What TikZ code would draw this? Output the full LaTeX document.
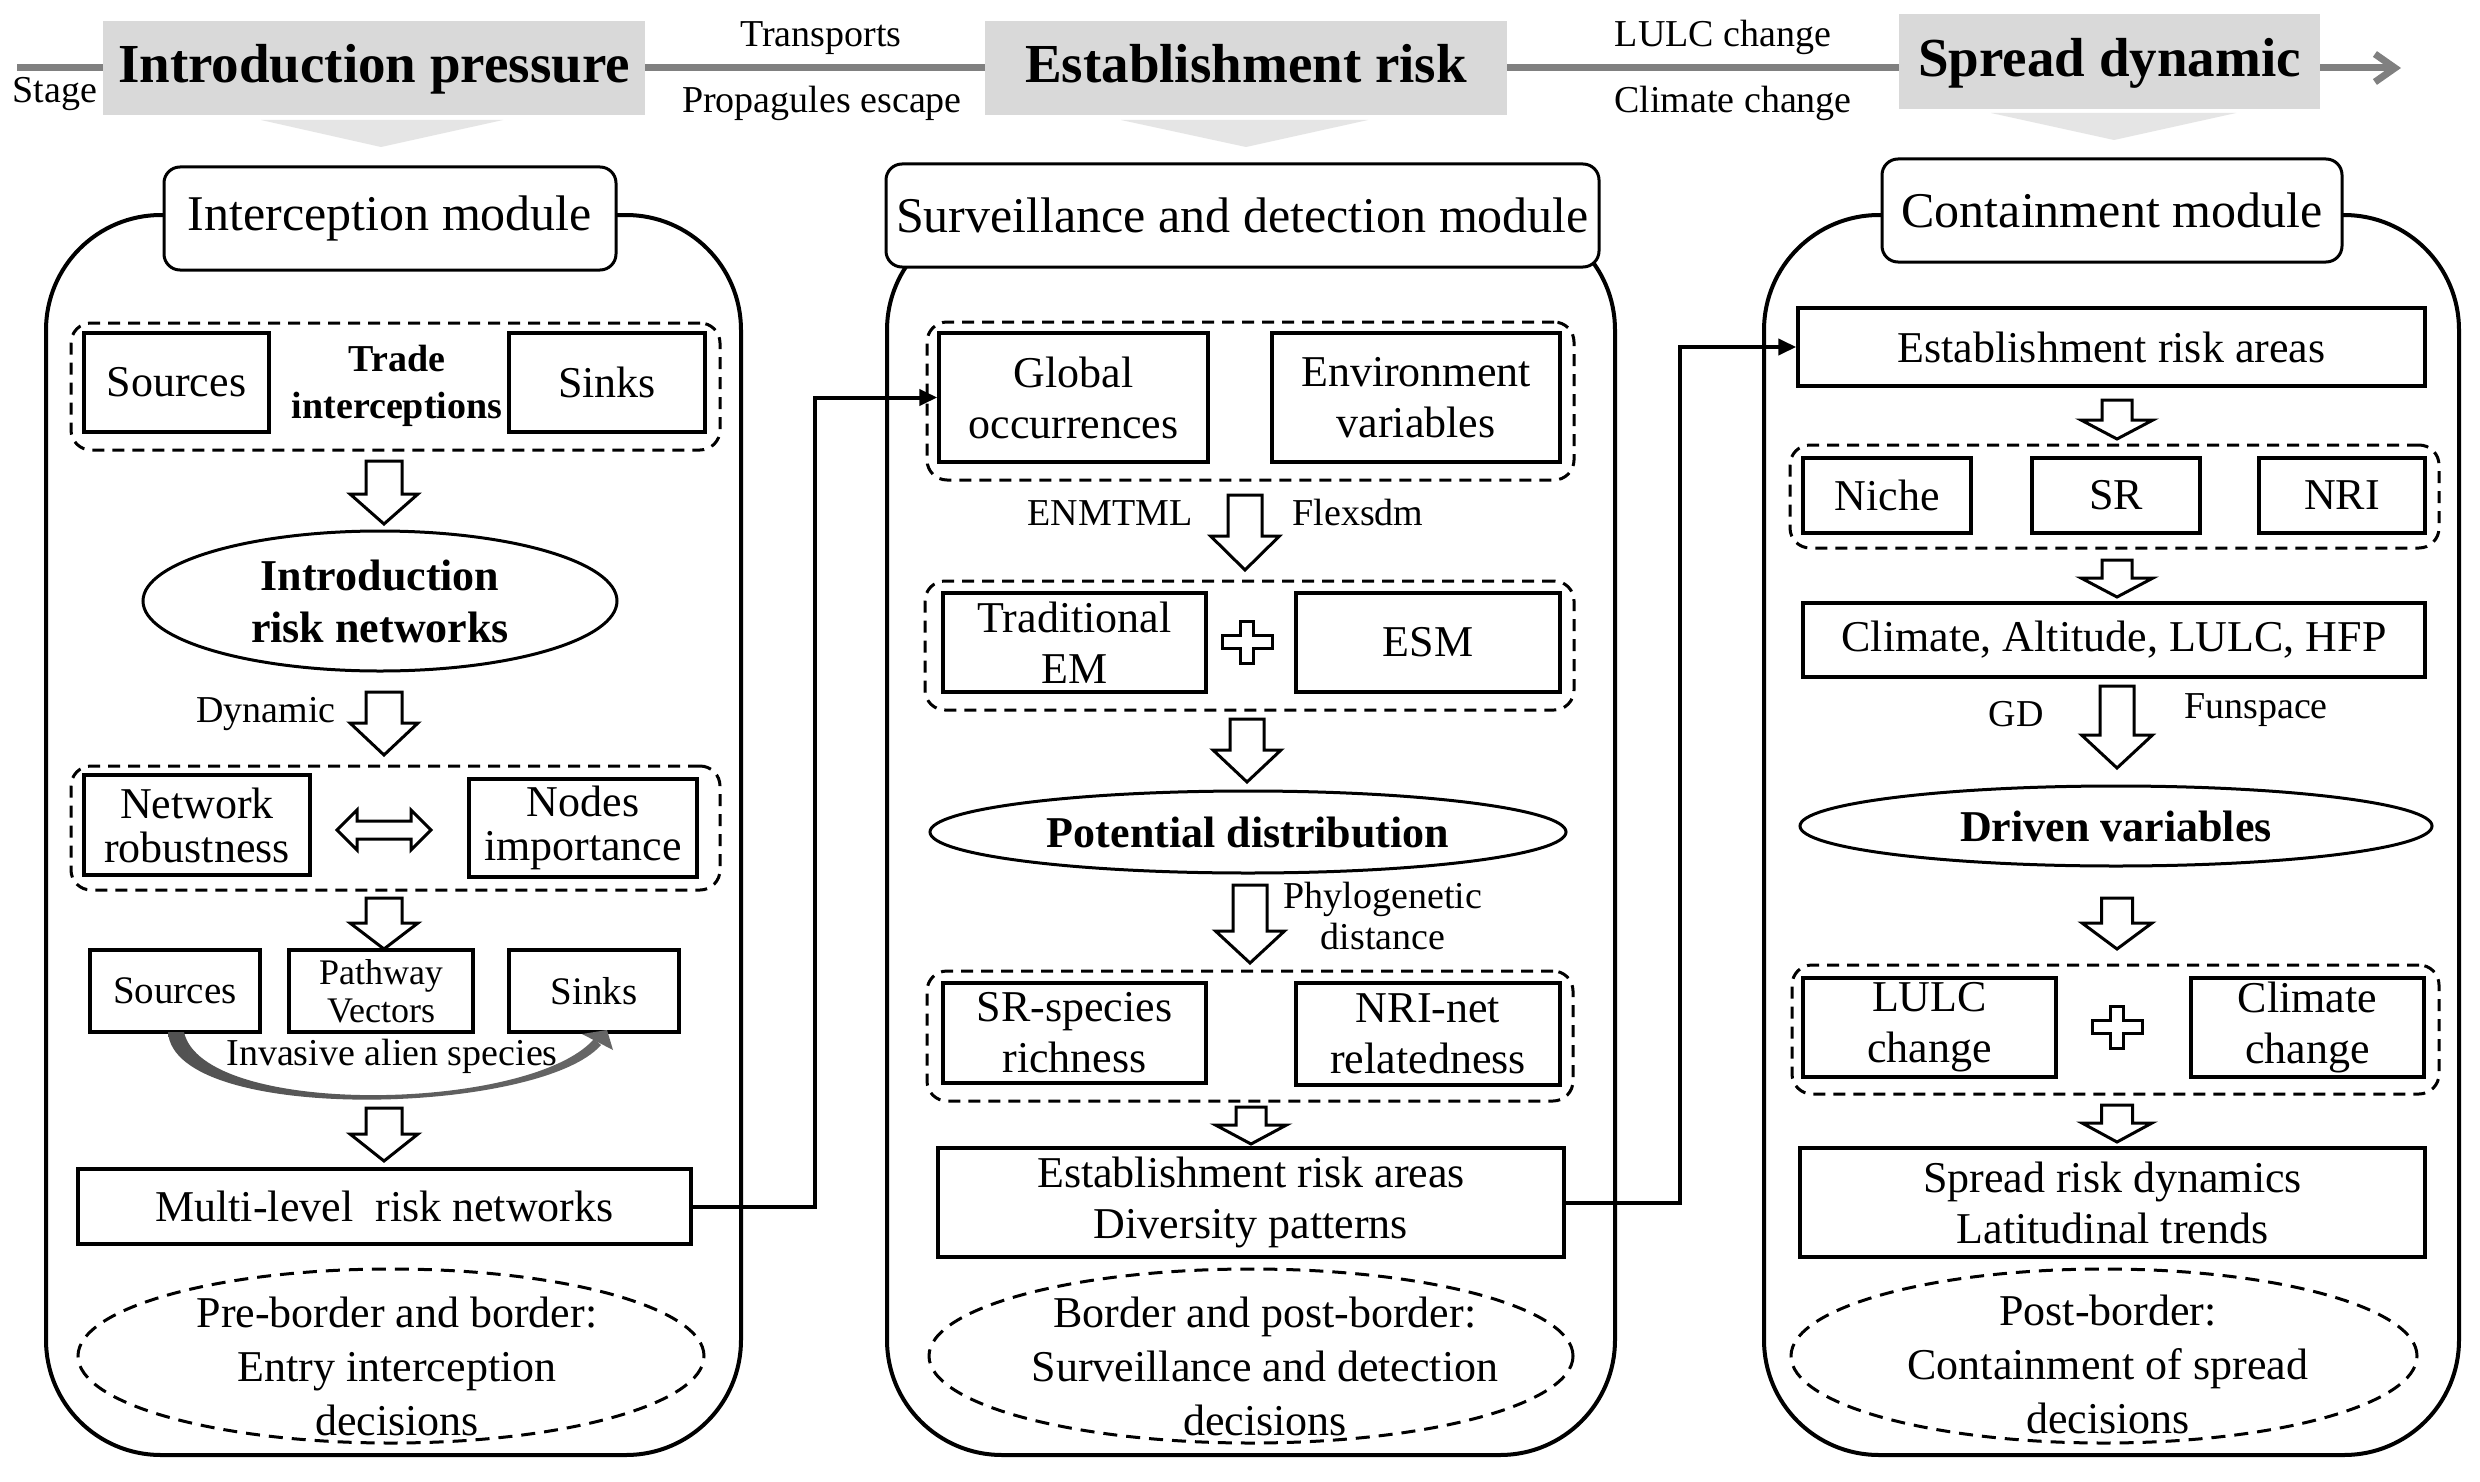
\documentclass[tikz,border=0pt]{standalone}
\usepackage{fontspec}
\setmainfont{Liberation Serif}
\usetikzlibrary{shapes.geometric,arrows.meta}
\tikzset{
  stagebox/.style={fill=black!15, inner sep=0pt, text height=40pt, text depth=10pt, font=\fontsize{55}{60}\selectfont\bfseries},
  stagetri/.style={fill=black!10},
  stageline/.style={draw=black!50, line width=7pt, -{Straight Barb[length=20pt,width=28pt]}},
  toplab/.style={inner sep=0pt, font=\fontsize{38}{44}\selectfont},
  module/.style={draw, line width=4pt, rounded corners=115pt, inner sep=0pt},
  mtitle/.style={draw, fill=white, line width=3pt, rounded corners=16pt, inner sep=0pt, font=\fontsize{50}{56}\selectfont},
  grp/.style={draw, line width=3pt, dash pattern=on 12pt off 8pt, rounded corners=20pt, inner sep=0pt},
  sbox/.style={draw, line width=3.5pt, inner sep=0pt, align=center, font=\fontsize{44}{51}\selectfont},
  lab/.style={inner sep=0pt, align=center, font=\fontsize{38}{41}\selectfont},
  bell/.style={ellipse, draw, line width=3pt, inner sep=0pt, align=center, font=\fontsize{44}{52}\selectfont\bfseries},
  dell/.style={ellipse, draw, line width=3pt, dash pattern=on 14pt off 9pt, inner sep=0pt},
  delltext/.style={inner sep=0pt, align=center, font=\fontsize{44}{54}\selectfont},
  hollow/.style={draw, fill=white, line width=3pt},
  conn/.style={line width=4pt, -{Triangle[length=18pt,width=16pt]}},
}
% box node from its corners: style, name, x1, y1, x2, y2 (text follows)
\newcommand\bnode[6]{\node[#1, minimum width={#5-#3}, minimum height={#6-#4}] (#2) at ({(#3+#5)/2},{(#4+#6)/2})}
\newcommand\hollowdown[6]{\draw[hollow] ({#1-#5/2},#2) -- ({#1+#5/2},#2) -- ({#1+#5/2},#3) -- ({#1+#6/2},#3) -- (#1,#4) -- ({#1-#6/2},#3) -- ({#1-#5/2},#3) -- cycle;}
\newcommand\hollowplus[2]{\draw[hollow] ({#1-6.5},{#2-21}) -- ({#1+6.5},{#2-21}) -- ({#1+6.5},{#2-6.5}) -- ({#1+25},{#2-6.5}) -- ({#1+25},{#2+6.5}) -- ({#1+6.5},{#2+6.5}) -- ({#1+6.5},{#2+21}) -- ({#1-6.5},{#2+21}) -- ({#1-6.5},{#2+6.5}) -- ({#1-25},{#2+6.5}) -- ({#1-25},{#2-6.5}) -- ({#1-6.5},{#2-6.5}) -- cycle;}
\begin{document}
\begin{tikzpicture}[x=1pt,y=-1pt]
\useasboundingbox (0,0) rectangle (2480,1482);
\fill[white] (0,0) rectangle (2480,1482);
% ---------- stage bar ----------
\coordinate (s0) at (17,68);
\coordinate (s1) at (2401,68);
\draw[stageline] (s0) -- (s1);
\bnode{stagebox}{ip}{103}{21}{645}{115} {Introduction pressure};
\bnode{stagebox}{er}{985}{21}{1507}{115} {Establishment risk};
\bnode{stagebox}{sd}{1899}{14}{2320}{109} {Spread dynamic};
\fill[stagetri] (261,120) -- (503,120) -- (381,147) -- cycle;
\fill[stagetri] (1121,120) -- (1368,120) -- (1246,147) -- cycle;
\fill[stagetri] (1991,113) -- (2236,113) -- (2114,140) -- cycle;
\node[toplab, anchor=base] (stg) at (55,103) {Stage};
\node[toplab, anchor=base] (trn) at (821,47) {Transports};
\node[toplab, anchor=base] (pes) at (822,113) {Propagules escape};
\node[toplab, anchor=base] (lcc) at (1723,47) {LULC change};
\node[toplab, anchor=base] (clm) at (1733,113) {Climate change};
% ---------- modules ----------
\bnode{module}{m1}{46}{215}{741}{1455} {};
\bnode{module}{m2}{887}{215}{1615}{1455} {};
\bnode{module}{m3}{1764}{215}{2459}{1455} {};
\bnode{mtitle}{t1}{164}{167}{616}{270} {Interception module};
\bnode{mtitle}{t2}{886}{164}{1599}{267} {Surveillance and detection module};
\bnode{mtitle}{t3}{1882}{159}{2342}{262} {Containment module};
% ---------- left module ----------
\bnode{grp}{g1}{71}{323}{720}{450} {};
\bnode{sbox}{src1}{84}{333}{269}{432} {Sources};
\bnode{sbox}{snk1}{509}{333}{705}{432} {Sinks};
\node[inner sep=0pt, align=center, font=\fontsize{38}{47}\selectfont\bfseries] (trade) at (397,386) {Trade\\interceptions};
\hollowdown{384}{461}{494}{524}{36}{68}
\node[bell, minimum width=474pt, minimum height=140pt] (irn) at (380,601) {Introduction\\risk networks};
\node[lab] (dyn) at (266,714) {Dynamic};
\hollowdown{384}{692}{723}{755}{36}{68}
\bnode{grp}{g2}{71}{766}{720}{890} {};
\bnode{sbox, font=\fontsize{44}{44}\selectfont}{nr}{84}{775}{310}{875} {Network\\robustness};
\bnode{sbox, font=\fontsize{44}{44}\selectfont}{ni}{469}{779}{697}{877} {Nodes\\importance};
\draw[hollow] (337,830) -- (357,810) -- (357,821) -- (411,821) -- (411,810) -- (431,830) -- (411,850) -- (411,839) -- (357,839) -- (357,850) -- cycle;
\hollowdown{384}{898}{923}{949}{36}{68}
\bnode{sbox, font=\fontsize{39}{44}\selectfont}{src2}{90}{950}{260}{1032} {Sources};
\bnode{sbox, font=\fontsize{36}{38}\selectfont}{pv}{289}{950}{473}{1032} {Pathway\\Vectors};
\bnode{sbox, font=\fontsize{39}{44}\selectfont}{snk2}{509}{950}{679}{1032} {Sinks};
\shade[left color=black!68, middle color=black!20, right color=black!60] (168,1032) .. controls (174,1125) and (540,1115) .. (601,1045) -- (594,1039) .. controls (530,1112) and (203,1118) .. (184,1032) -- cycle;
\fill[black!60] (582,1034) -- (607,1030) -- (613,1050) -- cycle;
\node[lab] (ias) at (392,1056) {Invasive alien species};
\hollowdown{384}{1108}{1134}{1161}{36}{68}
\bnode{sbox}{mrn}{78}{1169}{691}{1244} {Multi-level\ \ risk networks};
\node[dell, minimum width=626pt, minimum height=174pt] (d1) at (391,1356) {};
\node[delltext] (d1t) at (397,1366) {Pre-border and border:\\Entry interception\\decisions};
% ---------- middle module ----------
\bnode{grp}{gA}{927}{322}{1574}{480} {};
\bnode{sbox}{go}{939}{333}{1208}{462} {Global\\occurrences};
\bnode{sbox}{ev}{1272}{333}{1560}{462} {Environment\\variables};
\node[lab] (enm) at (1110,513) {ENMTML};
\node[lab] (flx) at (1358,512) {Flexsdm};
\hollowdown{1245}{495}{536}{570}{34}{69}
\bnode{grp}{gB}{925}{581}{1574}{710} {};
\bnode{sbox}{tem}{943}{593}{1206}{692} {Traditional\\EM};
\bnode{sbox}{esm}{1296}{593}{1560}{692} {ESM};
\hollowplus{1247}{642}
\hollowdown{1247}{719}{750}{782}{34}{68}
\node[bell, minimum width=636pt, minimum height=82pt] (pd) at (1248,832) {Potential distribution};
\hollowdown{1250}{885}{931}{963}{34}{69}
\node[lab] (phy) at (1383,916) {Phylogenetic\\distance};
\bnode{grp}{gC}{927}{971}{1573}{1101} {};
\bnode{sbox}{srs}{943}{983}{1206}{1083} {SR-species\\richness};
\bnode{sbox}{nrn}{1296}{983}{1560}{1085} {NRI-net\\relatedness};
\hollowdown{1251}{1107}{1125}{1144}{30}{71}
\bnode{sbox}{era}{938}{1148}{1564}{1257} {Establishment risk areas\\Diversity patterns};
\node[dell, minimum width=644pt, minimum height=174pt] (d2) at (1251,1356) {};
\node[delltext] (d2t) at (1265,1366) {Border and post-border:\\Surveillance and detection\\decisions};
% ---------- right module ----------
\bnode{sbox}{erar}{1798}{308}{2425}{386} {Establishment risk areas};
\hollowdown{2117}{400}{420}{439}{30}{72}
\bnode{grp}{gD}{1790}{445}{2439}{548} {};
\bnode{sbox}{nic}{1803}{458}{1971}{533} {Niche};
\bnode{sbox}{srr}{2032}{458}{2200}{533} {SR};
\bnode{sbox}{nrr}{2259}{458}{2425}{533} {NRI};
\hollowdown{2117}{560}{578}{597}{30}{72}
\bnode{sbox}{cal}{1803}{603}{2425}{677} {Climate, Altitude, LULC, HFP};
\node[lab] (gd) at (2016,714) {GD};
\node[lab] (fun) at (2256,710) {Funspace};
\hollowdown{2117}{686}{735}{768}{34}{71}
\node[bell, minimum width=632pt, minimum height=80pt] (dv) at (2116,826) {Driven variables};
\hollowdown{2117}{898}{923}{949}{31}{70}
\bnode{grp}{gE}{1792}{965}{2439}{1094} {};
\bnode{sbox}{lul}{1803}{978}{2056}{1077} {LULC\\change};
\bnode{sbox}{clc}{2191}{978}{2424}{1077} {Climate\\change};
\hollowplus{2117}{1027}
\hollowdown{2117}{1105}{1123}{1142}{31}{70}
\bnode{sbox}{srd}{1800}{1148}{2425}{1257} {Spread risk dynamics\\Latitudinal trends};
\node[dell, minimum width=626pt, minimum height=174pt] (d3) at (2104,1356) {};
\node[delltext] (d3t) at (2108,1364) {Post-border:\\Containment of spread\\decisions};
% ---------- connectors ----------
\coordinate (k1) at (815,0);
\coordinate (k2) at (1680,0);
\draw[conn] (mrn.east) -| (k1 |- go.west) -- (go.west);
\draw[conn] (era.east) -| (k2 |- erar.west) -- (erar.west);
\end{tikzpicture}
\end{document}
